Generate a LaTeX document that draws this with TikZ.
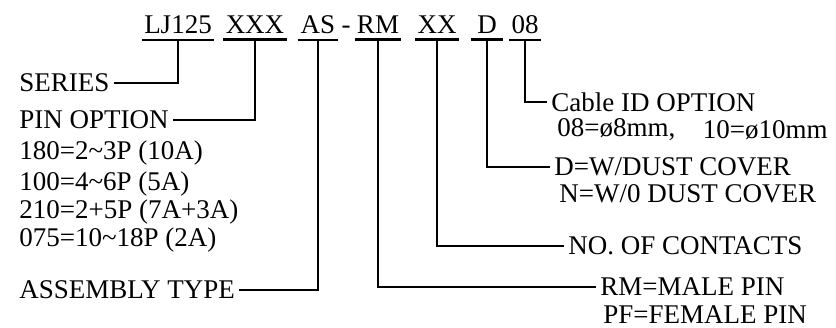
\documentclass[tikz,border=0pt]{standalone}
\usepackage{fontspec}
\setmainfont{Liberation Serif}
\usepackage{tikz}
\usetikzlibrary{positioning}

\begin{document}
\begin{tikzpicture}[x=0.5pt, y=-0.5pt,
    every node/.style={font=\fontsize{13.5}{16}\selectfont},
    code/.style={anchor=base, inner xsep=1pt, inner ysep=3pt},
    lbl/.style={anchor=west, inner sep=2pt},
    conn/.style={line width=1.1pt}]
    \useasboundingbox (0,0) rectangle (836,327);
    % part number code
    \node (lj) [code] at (178,33) {LJ125};
    \node (xxx) [code] at (255,33) {XXX};
    \node (as) [code] at (318,33) {AS};
    \node (hyph) [code] at (346,33) {-};
    \node (rm) [code] at (378,33) {RM};
    \node (xx) [code] at (437,33) {XX};
    \node (d) [code, inner xsep=3pt] at (487,33) {D};
    \node (cid) [code] at (525,33) {08};
    \draw[conn] (lj.south west) -- (lj.south east);
    \draw[conn] (xxx.south west) -- (xxx.south east);
    \draw[conn] (as.south west) -- (as.south east);
    \draw[conn] (rm.south west) -- (rm.south east);
    \draw[conn] (xx.south west) -- (xx.south east);
    \draw[conn] (d.south west) -- (d.south east);
    \draw[conn] (cid.south west) -- (cid.south east);
    % left labels
    \node (series) [lbl] at (15,83) {SERIES};
    \node (pinopt) [lbl] at (15,120) {PIN OPTION};
    \node (pa) [lbl] at (15,153) {180=2\textasciitilde3P (10A)};
    \node (pb) [lbl] at (15,184) {100=4\textasciitilde6P (5A)};
    \node (pc) [lbl] at (15,212) {210=2+5P (7A+3A)};
    \node (pd) [lbl] at (15,240) {075=10\textasciitilde18P (2A)};
    \node (asm) [lbl] at (15,290) {ASSEMBLY TYPE};
    % right labels
    \node (cable) [lbl] at (547,102) {Cable ID OPTION};
    \node (dia) [lbl] at (553,130) {08=ø8mm,};
    \node (dib) [lbl, anchor=east] at (832,130) {10=ø10mm};
    \node (dcov) [lbl] at (550,167) {D=W/DUST COVER};
    \node (ncov) [lbl] at (555,194) {N=W/0 DUST COVER};
    \node (cont) [lbl] at (564,246) {NO. OF CONTACTS};
    \node (male) [lbl] at (596,287) {RM=MALE PIN};
    \node (female) [lbl] at (599,315) {PF=FEMALE PIN};
    % connectors
    \draw[conn] (lj.south) |- (series.east);
    \draw[conn] (xxx.south) |- (pinopt.east);
    \draw[conn] (as.south) |- (asm.east);
    \draw[conn] (rm.south) |- (male.west);
    \draw[conn] (xx.south) |- (cont.west);
    \draw[conn] (d.south) |- (dcov.west);
    \draw[conn] (cid.south) |- (cable.west);
\end{tikzpicture}
\end{document}
